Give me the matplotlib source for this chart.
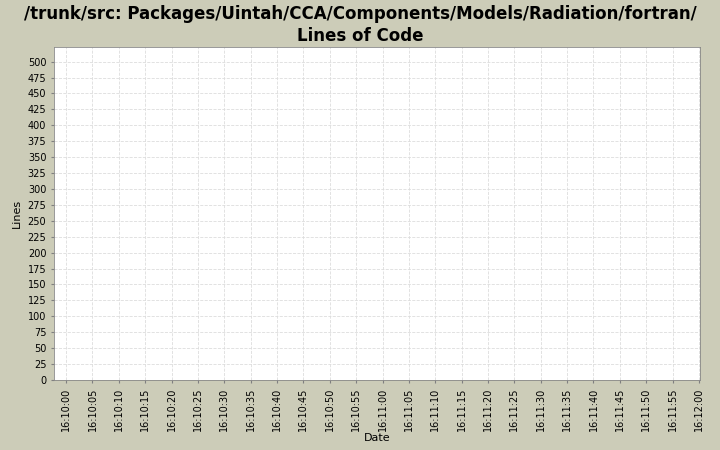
import numpy as np
import matplotlib
matplotlib.use("Agg")
import matplotlib.pyplot as plt

# tick positions in seconds after 16:10:00
x_seconds = list(range(0, 125, 5))
x_labels = ["16:%02d:%02d" % (10 + s // 60, s % 60) for s in x_seconds]
y_ticks = list(range(0, 525, 25))

fig = plt.figure(figsize=(7.2, 4.5), dpi=100)
fig.patch.set_facecolor("#CCCCB8")
ax = fig.add_axes([54 / 720, 1 - 380 / 450, 646 / 720, 333 / 450])
ax.set_facecolor("white")

ax.set_xlim(-2.3, 120.2)
ax.set_ylim(0, 523)
ax.set_xticks(x_seconds)
ax.set_xticklabels(x_labels, rotation=90, fontsize=7)
ax.set_yticks(y_ticks)
ax.set_yticklabels([str(v) for v in y_ticks], fontsize=7)
ax.grid(True, color="#DDDDDD", linestyle="--", linewidth=0.6)
ax.tick_params(length=2, color="gray")
for s in ax.spines.values():
    s.set_color("#888888")
    s.set_linewidth(0.6)

ax.set_xlabel("Date", fontsize=8, labelpad=1)
ax.set_ylabel("Lines", fontsize=8)
fig.suptitle("/trunk/src: Packages/Uintah/CCA/Components/Models/Radiation/fortran/\nLines of Code",
             fontsize=12, fontweight="bold", y=0.988, linespacing=1.25)

fig.savefig("out.png", dpi=100, facecolor=fig.get_facecolor())
